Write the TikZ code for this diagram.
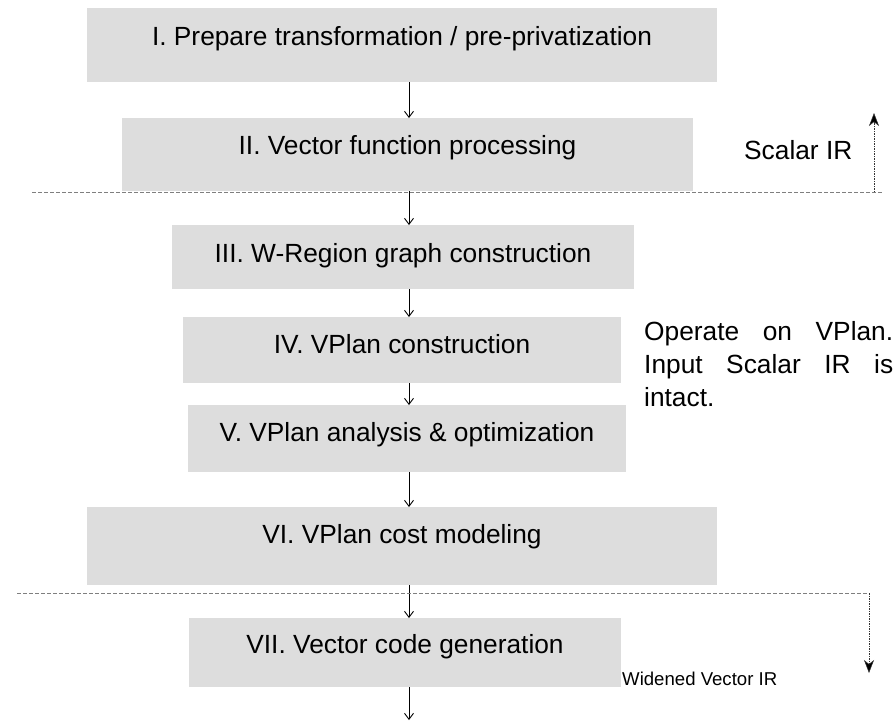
\documentclass[tikz,border=0pt]{standalone}
\usepackage{fontspec}
\setmainfont{Liberation Sans}
\usetikzlibrary{arrows.meta}
\definecolor{boxgray}{HTML}{DDDDDD}
\definecolor{dashgray}{HTML}{7F7F7F}
\begin{document}
\begin{tikzpicture}[x=1pt,y=-1pt,
  stage/.style={fill=boxgray, draw=none, inner sep=0pt, outer sep=0pt, anchor=north west},
  lbl/.style={anchor=base, inner sep=0pt, font=\fontsize{26.3}{32}\selectfont},
  flow/.style={draw=black, line width=0.9pt, -{Straight Barb[length=6pt,width=9pt]}},
  sep/.style={draw=dashgray, line width=1pt, dash pattern=on 4pt off 2pt},
  irflow/.style={draw=black!80, line width=0.9pt, dash pattern=on 1.5pt off 1pt, -{Stealth[length=13pt,width=10pt,inset=4pt,fill=black,line width=0.5pt]}}
]
\useasboundingbox (0,0) rectangle (895,721);

\coordinate (ax) at (409,0);

% stage boxes
\node[stage, minimum width=630, minimum height=74] (b1) at (87,8) {};
\node[stage, minimum width=571, minimum height=73] (b2) at (122,118) {};
\node[stage, minimum width=462, minimum height=64] (b3) at (172,225) {};
\node[stage, minimum width=438, minimum height=66] (b4) at (183,317) {};
\node[stage, minimum width=438, minimum height=67] (b5) at (188,405) {};
\node[stage, minimum width=630, minimum height=78] (b6) at (87,507) {};
\node[stage, minimum width=432, minimum height=69] (b7) at (189,618) {};

% stage labels
\node[lbl] (t1) at (b1.center |- 0,45) {I. Prepare transformation / pre-privatization};
\node[lbl] (t2) at (b2.center |- 0,154) {II. Vector function processing};
\node[lbl] (t3) at (b3.center |- 0,262) {III. W-Region graph construction};
\node[lbl] (t4) at (b4.center |- 0,353) {IV. VPlan construction};
\node[lbl] (t5) at (b5.center |- 0,441) {V. VPlan analysis \& optimization};
\node[lbl] (t6) at (b6.center |- 0,543) {VI. VPlan cost modeling};
\node[lbl] (t7) at (b7.center |- 0,653) {VII. Vector code generation};

% flow arrows
\coordinate (out) at (409,720);
\draw[flow] (b1.south -| ax) -- (b2.north -| ax);
\draw[flow] (b2.south -| ax) -- (b3.north -| ax);
\draw[flow] (b3.south -| ax) -- (b4.north -| ax);
\draw[flow] (b4.south -| ax) -- (b5.north -| ax);
\draw[flow] (b5.south -| ax) -- (b6.north -| ax);
\draw[flow] (b6.south -| ax) -- (b7.north -| ax);
\draw[flow] (b7.south -| ax) -- (out);

% separator lines
\coordinate (s1a) at (32,192);
\coordinate (s1b) at (882,192);
\coordinate (s1c) at (874,192);
\coordinate (s1d) at (874,113);
\draw[sep] (s1a) -- (s1b);
\draw[irflow] (s1c) -- (s1d);

\coordinate (s2a) at (17,593);
\coordinate (s2b) at (869,593);
\coordinate (s2c) at (869,673);
\draw[sep] (s2a) -- (s2b);
\draw[irflow] (s2b) -- (s2c);

% side texts
\node[anchor=base west, inner sep=0pt, font=\fontsize{26.3}{32}\selectfont] (scalar) at (744,159) {Scalar IR};
\node[anchor=base west, inner sep=0pt, font=\fontsize{18.6}{22}\selectfont] (widened) at (622,685) {Widened Vector IR};
\node[anchor=base west, inner sep=0pt, align=left, text width=249pt,
      font=\fontsize{26.3}{33}\selectfont] (note) at (644,340)
  {\makebox[249pt][s]{Operate\hfill on\hfill VPlan.}\\\makebox[249pt][s]{Input\hfill Scalar\hfill IR\hfill is}\\intact.};
\end{tikzpicture}
\end{document}
